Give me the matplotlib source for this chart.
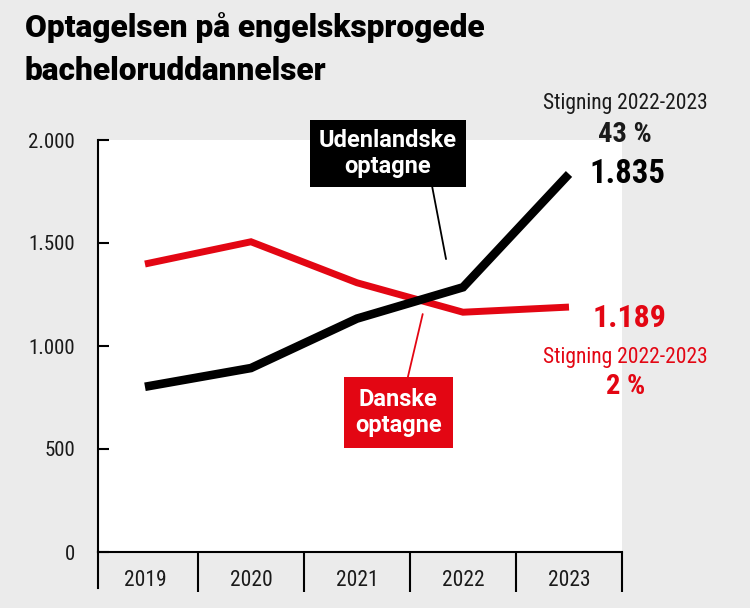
import matplotlib
matplotlib.use("Agg")
import matplotlib.pyplot as plt
from matplotlib import font_manager as fm
from matplotlib.ticker import FuncFormatter, FixedLocator
from matplotlib.lines import Line2D

# ---------------- data ----------------
years = ["2019", "2020", "2021", "2022", "2023"]
udenlandske = [802, 893, 1133, 1285, 1835]
danske = [1398, 1506, 1307, 1164, 1189]
y_ticks = [0, 500, 1000, 1500, 2000]
title_lines = ["Optagelsen på engelsksprogede", "bacheloruddannelser"]
label_udl = "Udenlandske\noptagne"
label_dk = "Danske\noptagne"
rise_label = "Stigning 2022-2023"
rise_udl = "43 %"
rise_dk = "2 %"

# ---------------- fonts ----------------
names = {f.name for f in fm.fontManager.ttflist}

def pick(cands):
    for c in cands:
        if c in names:
            return c
    return "DejaVu Sans"

FONT = pick(["Roboto Condensed", "Liberation Sans Narrow", "Open Sans Condensed", "Liberation Sans"])
BOLDFONT = pick(["Roboto", "Liberation Sans", "Noto Sans"])
plt.rcParams["font.family"] = [FONT, "DejaVu Sans"]

RED = "#e30613"
BG = "#ebebeb"
W, H = 750, 608
DPI = 100

fig = plt.figure(figsize=(W / DPI, H / DPI), dpi=DPI, facecolor=BG)

def fx(px):
    return px / W

def fy(py):
    return 1 - py / H

# axes: x 98..622 px, y 140..552 px
ax = fig.add_axes([fx(98), fy(552), fx(622) - fx(98), fy(140) - fy(552)])
ax.set_facecolor("white")
xs = list(range(len(years)))

ax.plot(xs, danske, color=RED, lw=5.0, solid_capstyle="butt", solid_joinstyle="miter", zorder=3)
ax.plot(xs, udenlandske, color="black", lw=6.2, solid_capstyle="butt", solid_joinstyle="miter", zorder=4)

ax.set_xlim(-0.443, 4.5)
ax.set_ylim(0, 2000)

for s in ["top", "right"]:
    ax.spines[s].set_visible(False)
ax.spines["left"].set_linewidth(1.5)
ax.spines["bottom"].set_linewidth(1.5)

# y ticks
ax.yaxis.set_major_locator(FixedLocator(y_ticks))
ax.yaxis.set_major_formatter(FuncFormatter(lambda v, p: f"{int(v):,}".replace(",", ".")))
ax.tick_params(axis="y", direction="in", length=8, width=1.5, pad=16.5,
               labelsize=15, labelcolor="#1a1a1a")

# x: category separators as major ticks, labels as minor ticks
ax.xaxis.set_major_locator(FixedLocator([0.5, 1.5, 2.5, 3.5, 4.5]))
ax.xaxis.set_major_formatter(FuncFormatter(lambda v, p: ""))
ax.xaxis.set_minor_locator(FixedLocator(xs))
ax.xaxis.set_minor_formatter(FuncFormatter(lambda v, p: years[int(round(v))]))
ax.tick_params(axis="x", which="major", direction="out", length=29, width=1.5)
ax.tick_params(axis="x", which="minor", length=0, pad=13, labelsize=15.5, labelcolor="#1a1a1a")

# extension of left axis line below zero
ax.add_line(Line2D([0, 0], [0, -36 / 412], transform=ax.transAxes, color="black",
                   lw=1.5, clip_on=False))

# label boxes with leader lines
box_kw = dict(ha="center", va="center", color="white", fontsize=17, fontweight="bold",
              family=[BOLDFONT, "DejaVu Sans"], linespacing=1.15, annotation_clip=False,
              zorder=6)
ax.annotate(label_udl, xy=(2.84, 1422), xytext=(2.29, 1934), textcoords="data",
            bbox=dict(boxstyle="square,pad=0.38", fc="black", ec="none"),
            arrowprops=dict(arrowstyle="-", color="black", lw=1.3, relpos=(0.81, 0.0),
                            shrinkA=0, shrinkB=0), **box_kw)
ax.annotate(label_dk, xy=(2.62, 1155), xytext=(2.39, 677), textcoords="data",
            bbox=dict(boxstyle="square,pad=0.47", fc=RED, ec="none"),
            arrowprops=dict(arrowstyle="-", color=RED, lw=1.3, relpos=(0.58, 1.0),
                            shrinkA=0, shrinkB=0), **box_kw)

# end values
fmt = lambda v: f"{v:,}".replace(",", ".")
ax.annotate(fmt(udenlandske[-1]), xy=(xs[-1], udenlandske[-1]), xytext=(20, 0),
            textcoords="offset pixels", ha="left", va="center", fontsize=23.5,
            fontweight="bold", color="black", annotation_clip=False)
ax.annotate(fmt(danske[-1]), xy=(xs[-1], danske[-1]), xytext=(24, -11),
            textcoords="offset pixels", ha="left", va="center", fontsize=23,
            fontweight="bold", color=RED, annotation_clip=False)

# rise texts
fig.text(fx(625), fy(103), rise_label, ha="center", va="center", fontsize=15.5, color="#1a1a1a")
fig.text(fx(625), fy(135), rise_udl, ha="center", va="center", fontsize=20.5,
         fontweight="bold", color="#1a1a1a")
fig.text(fx(625), fy(357), rise_label, ha="center", va="center", fontsize=15.5, color=RED)
fig.text(fx(626), fy(387), rise_dk, ha="center", va="center", fontsize=20.5,
         fontweight="bold", color=RED)

# title
for line, base in zip(title_lines, [37, 80]):
    fig.text(fx(25), fy(base), line, ha="left", va="baseline", fontsize=22.8,
             fontweight=900, color="black", family=[BOLDFONT, "DejaVu Sans"])

fig.savefig("out.png", dpi=DPI, facecolor=BG)
